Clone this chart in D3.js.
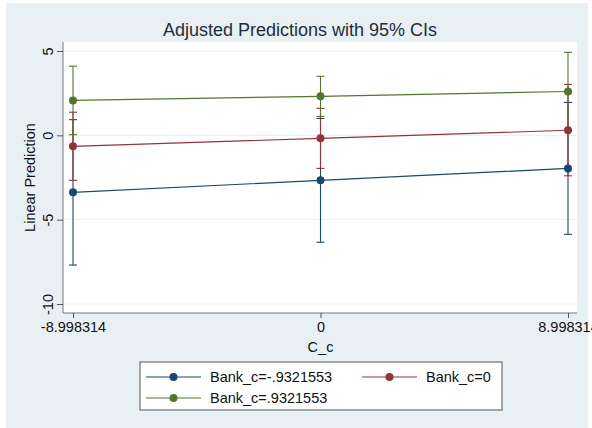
<!DOCTYPE html>
<html>
<head>
<meta charset="utf-8">
<script src="https://cdn.jsdelivr.net/npm/d3@7"></script>
<style>
  body { margin: 0; background: #fff; }
  text { font-family: "Liberation Sans", Arial, sans-serif; }
</style>
</head>
<body>
<div id="chart"></div>
<script>
// data
const cValues   = [-8.998314, 0, 8.998314];
const xTickText = ['-8.998314', '0', '8.998314'];
const yTicks    = [5, 0, -5, -10];

const seriesNames = ['Bank_c=-.9321553', 'Bank_c=0', 'Bank_c=.9321553'];
const seriesColors = ['#1a476f', '#90353b', '#55752f'];

const blueMargin  = [-3.38, -2.67, -1.96];
const blueLower   = [-7.69, -6.34, -5.87];
const blueUpper   = [0.93, 1.00, 1.95];

const redMargin   = [-0.65, -0.18, 0.30];
const redLower    = [-2.67, -1.96, -2.40];
const redUpper    = [1.37, 1.60, 3.02];

const greenMargin = [2.07, 2.31, 2.60];
const greenLower  = [0.04, 1.12, 0.28];
const greenUpper  = [4.10, 3.50, 4.92];

const width = 592, height = 428;
const fontSize = '14.5px';

const series = [
  { name: seriesNames[0], color: seriesColors[0], m: blueMargin,  lo: blueLower,  hi: blueUpper },
  { name: seriesNames[1], color: seriesColors[1], m: redMargin,   lo: redLower,   hi: redUpper },
  { name: seriesNames[2], color: seriesColors[2], m: greenMargin, lo: greenLower, hi: greenUpper }
];

const svg = d3.select('#chart').append('svg')
  .attr('width', width)
  .attr('height', height)
  .attr('viewBox', [0, 0, width, height]);

// graph region background (Stata s2color)
svg.append('rect').attr('x', 6).attr('y', 3).attr('width', 582).attr('height', 425).attr('fill', '#e9f0f3');

// plot region
const plot = { left: 63, right: 577, top: 42, bottom: 313 };
svg.append('rect')
  .attr('x', plot.left).attr('y', plot.top)
  .attr('width', plot.right - plot.left).attr('height', plot.bottom - plot.top)
  .attr('fill', '#fff');

const x = d3.scaleLinear().domain([cValues[0], cValues[2]]).range([73, 568]);
const y = d3.scaleLinear().domain([-10, 5]).range([304, 51]);

// gridlines
svg.append('g').selectAll('line').data(yTicks).join('line')
  .attr('x1', plot.left).attr('x2', plot.right)
  .attr('y1', d => y(d)).attr('y2', d => y(d))
  .attr('stroke', '#eaf1f4').attr('stroke-width', 1.2);

// axes
const yAxis = svg.append('g')
  .attr('transform', `translate(${plot.left},0)`)
  .call(d3.axisLeft(y).tickValues(yTicks).tickSize(6).tickPadding(3).tickFormat(d3.format('d')));
yAxis.select('.domain').attr('d', `M0,${plot.top}V${plot.bottom}`).attr('stroke', '#777');
yAxis.selectAll('.tick line').attr('stroke', '#555');
yAxis.selectAll('.tick text')
  .attr('x', null).attr('dy', null)
  .attr('transform', 'translate(-10,0) rotate(-90)')
  .attr('text-anchor', 'middle')
  .attr('dy', '0em')
  .style('font-size', fontSize).attr('fill', '#111')
  .text(d => d < 0 ? '-' + Math.abs(d) : d);

const xAxis = svg.append('g')
  .attr('transform', `translate(0,${plot.bottom})`)
  .call(d3.axisBottom(x).tickValues(cValues).tickSize(5).tickPadding(4).tickFormat((d, i) => xTickText[i]));
xAxis.select('.domain').attr('d', `M${plot.left},0H${plot.right}`).attr('stroke', '#777');
xAxis.selectAll('.tick line').attr('stroke', '#555');
xAxis.selectAll('.tick text').style('font-size', fontSize).attr('fill', '#111');

// titles
svg.append('text').attr('x', 300).attr('y', 36).attr('text-anchor', 'middle')
  .style('font-size', '18px').attr('fill', '#1e2d3b')
  .text('Adjusted Predictions with 95% CIs');

svg.append('text').attr('transform', `translate(35,${(plot.top + plot.bottom) / 2}) rotate(-90)`)
  .attr('text-anchor', 'middle').style('font-size', fontSize).attr('fill', '#111')
  .text('Linear Prediction');

svg.append('text').attr('x', x(0)).attr('y', 352).attr('text-anchor', 'middle')
  .style('font-size', fontSize).attr('fill', '#111').text('C_c');

// confidence intervals
const capHalf = 4;
series.forEach(s => {
  const g = svg.append('g').attr('stroke', s.color).attr('stroke-width', 1.1);
  cValues.forEach((c, i) => {
    g.append('line').attr('x1', x(c)).attr('x2', x(c)).attr('y1', y(s.lo[i])).attr('y2', y(s.hi[i]));
    g.append('line').attr('x1', x(c) - capHalf).attr('x2', x(c) + capHalf).attr('y1', y(s.lo[i])).attr('y2', y(s.lo[i]));
    g.append('line').attr('x1', x(c) - capHalf).attr('x2', x(c) + capHalf).attr('y1', y(s.hi[i])).attr('y2', y(s.hi[i]));
  });
});

// connected lines and markers
const line = d3.line().x((d, i) => x(cValues[i])).y(d => y(d));
series.forEach(s => {
  svg.append('path').attr('d', line(s.m)).attr('fill', 'none')
    .attr('stroke', s.color).attr('stroke-width', 1.2);
  svg.append('g').selectAll('circle').data(s.m).join('circle')
    .attr('cx', (d, i) => x(cValues[i])).attr('cy', d => y(d))
    .attr('r', 4).attr('fill', s.color);
});

// legend
const legend = svg.append('g');
legend.append('rect').attr('x', 140).attr('y', 362).attr('width', 362).attr('height', 48)
  .attr('fill', '#fff').attr('stroke', '#555').attr('stroke-width', 1);
const legendPos = [
  { x: 146, y: 377 },
  { x: 362, y: 377 },
  { x: 146, y: 398 }
];
series.forEach((s, i) => {
  const p = legendPos[i];
  legend.append('line').attr('x1', p.x).attr('x2', p.x + 55).attr('y1', p.y).attr('y2', p.y)
    .attr('stroke', s.color).attr('stroke-width', 1.2);
  legend.append('circle').attr('cx', p.x + 27.5).attr('cy', p.y).attr('r', 4).attr('fill', s.color);
  legend.append('text').attr('x', p.x + 64).attr('y', p.y + 5)
    .style('font-size', fontSize).attr('fill', '#111').text(s.name);
});
</script>
</body>
</html>
